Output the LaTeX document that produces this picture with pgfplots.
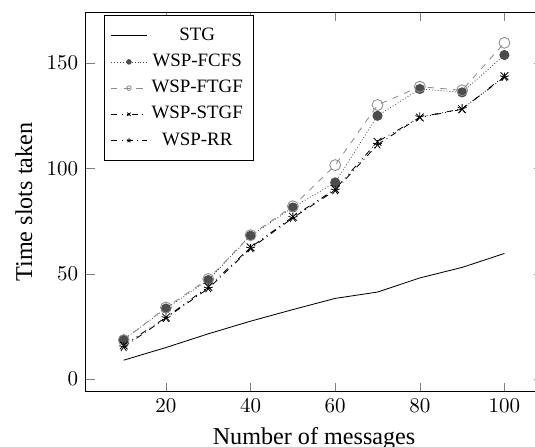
\documentclass[border=0pt]{standalone}
\usepackage{fontspec}
\setmainfont{Liberation Serif}
\usepackage{pgfplots}
\pgfplotsset{compat=1.18}
\begin{document}
\begin{tikzpicture}
\begin{axis}[
  scale only axis,
  width=217.5pt, height=180.7pt,
  xmin=1, xmax=109, ymin=-6, ymax=174,
  xtick={20,40,60,80,100}, ytick={0,50,100,150},
  xlabel={Number of messages}, ylabel={Time slots taken},
  label style={font=\fontsize{11.5}{13}\selectfont},
  legend style={at={(0.04,0.993)}, anchor=north west, font=\small, cells={anchor=center}, row sep=1pt, inner ysep=4pt, inner xsep=3pt},
  legend image post style={mark size=1.1pt},
  every axis plot/.append style={line width=0.4pt},
]
\addplot[black, mark=none] coordinates {
(10,9) (20,15) (30,21.5) (40,27.5) (50,33) (60,38.3) (70,41.3) (80,48) (90,53) (100,59.6)};
\addlegendentry{STG}
\addplot[black!70, densely dotted, mark=*, mark options={solid, fill=black!70, draw=black!70}, mark size=2.2pt] coordinates {
(10,18.8) (20,33.5) (30,47) (40,68) (50,81.4) (60,93.3) (70,124.9) (80,137.6) (90,136) (100,153.7)};
\addlegendentry{WSP-FCFS}
\addplot[black!45, dashed, mark=o, mark options={solid}, mark size=2.6pt] coordinates {
(10,18.5) (20,34) (30,47.5) (40,68.3) (50,82) (60,101.5) (70,130) (80,138.7) (90,137) (100,159.5)};
\addlegendentry{WSP-FTGF}
\addplot[black, dash dot dot, mark=x, mark options={solid}, mark size=2.6pt] coordinates {
(10,16) (20,29.3) (30,43.8) (40,62.5) (50,77) (60,90.1) (70,112.6) (80,124.1) (90,128) (100,143.7)};
\addlegendentry{WSP-STGF}
\addplot[black, dash dot, mark=star, mark options={solid}, mark size=2.2pt] coordinates {
(10,15.2) (20,29) (30,43) (40,62) (50,76.5) (60,89.5) (70,111.2) (80,124.3) (90,128.2) (100,143.2)};
\addlegendentry{WSP-RR}
\coordinate (bbA) at (axis cs:-19.24,-31.8);
\coordinate (bbB) at (axis cs:107.23,179.8);
\end{axis}
\pgfresetboundingbox
\path[use as bounding box] (bbA) rectangle (bbB);
\end{tikzpicture}
\end{document}
